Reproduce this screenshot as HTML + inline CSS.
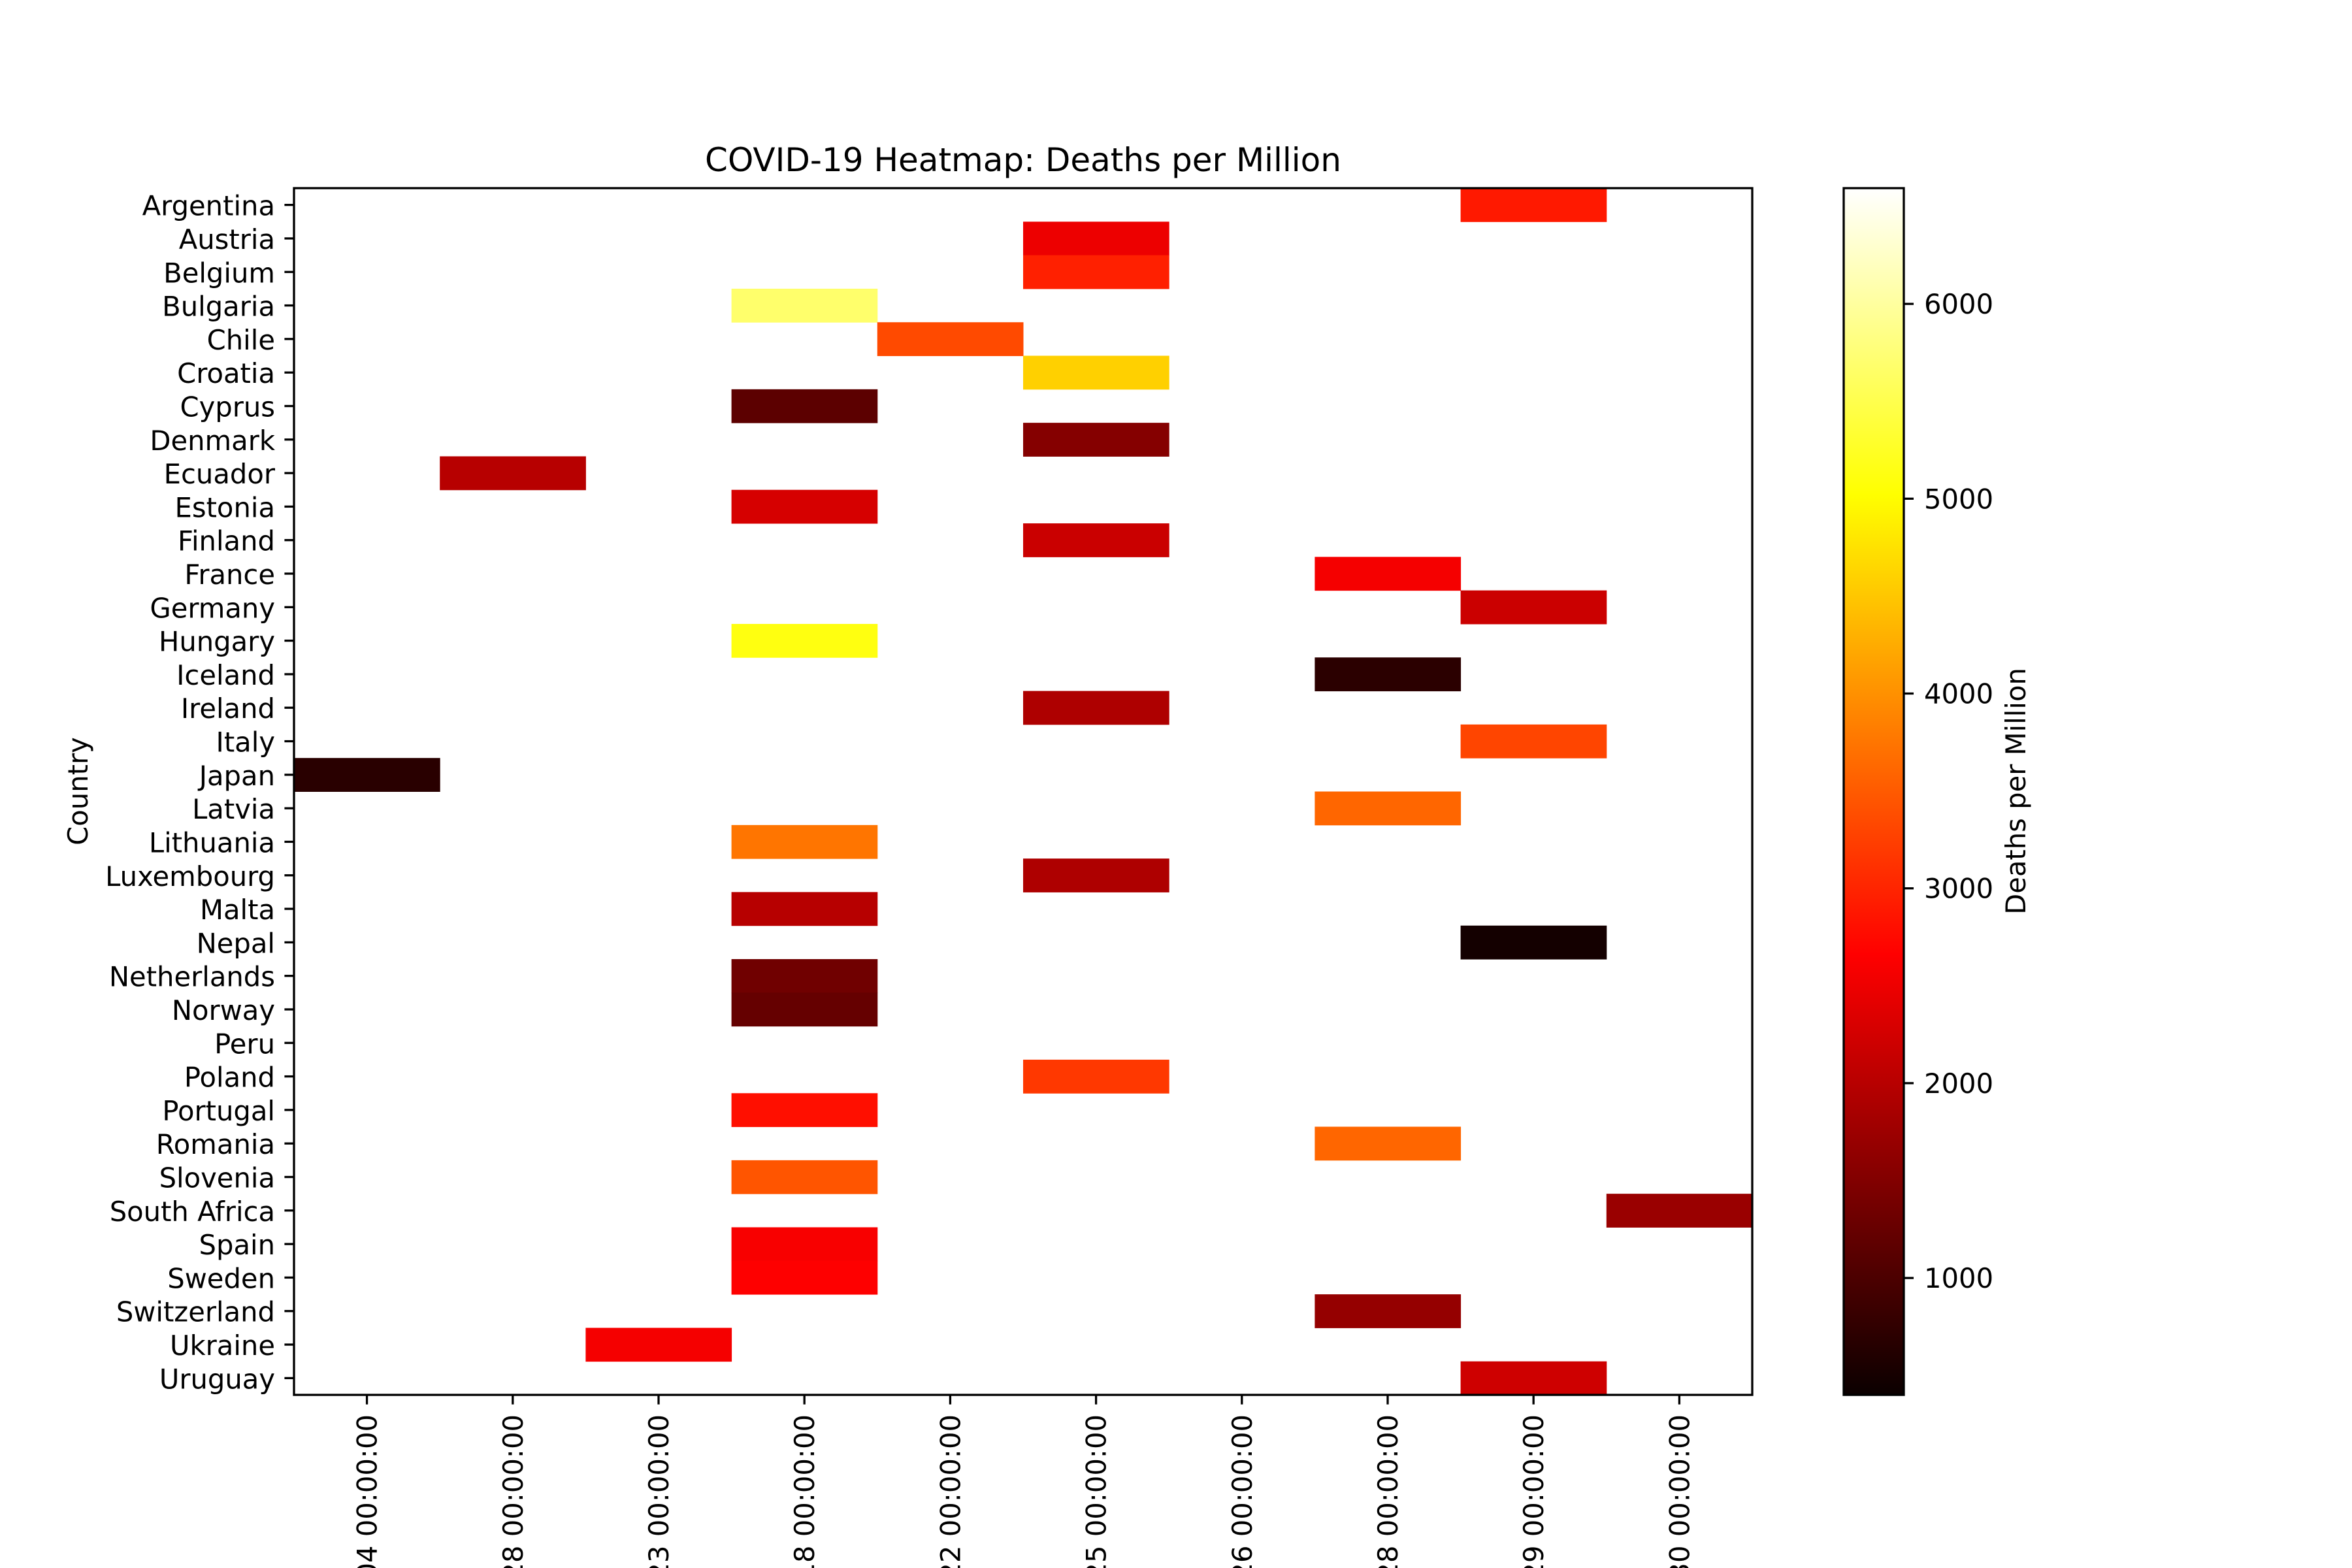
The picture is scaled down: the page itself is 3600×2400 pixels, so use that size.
<!DOCTYPE html>
<html>
<head>
<meta charset="utf-8">
<style>
  html,body{margin:0;padding:0;background:#fff;width:3600px;height:2400px;overflow:hidden;}
  svg{display:block;overflow:hidden;font-family:"DejaVu Sans","Liberation Sans",sans-serif;}
</style>
</head>
<body>
<svg id="chart" width="3600" height="2400" viewBox="0 0 3600 2400" xmlns="http://www.w3.org/2000/svg">
  <defs>
    <linearGradient id="hotgrad" x1="0" y1="1" x2="0" y2="0">
      <stop offset="0" stop-color="#0b0000"/>
      <stop offset="0.365" stop-color="#ff0000"/>
      <stop offset="0.746" stop-color="#ffff00"/>
      <stop offset="1" stop-color="#ffffff"/>
    </linearGradient>
  </defs>
  <rect width="3600" height="2400" fill="#fff"/>
  <text x="1566" y="262" font-size="50" text-anchor="middle">COVID-19 Heatmap: Deaths per Million</text>
  <g id="cells"></g>
  <g id="yaxis"></g>
  <g id="xaxis"></g>
  <rect x="450" y="288" width="2232" height="1847" fill="none" stroke="#000" stroke-width="3.3"/>
  <text transform="translate(134,1211) rotate(-90)" font-size="41.7" text-anchor="middle">Country</text>
  <rect x="2822" y="288" width="92" height="1847" fill="url(#hotgrad)" stroke="#000" stroke-width="3.3"/>
  <g id="cbaxis"></g>
  <text transform="translate(3100,1211) rotate(-90)" font-size="41.7" text-anchor="middle">Deaths per Million</text>
</svg>
<script>
const countries = ["Argentina","Austria","Belgium","Bulgaria","Chile","Croatia","Cyprus","Denmark","Ecuador","Estonia","Finland","France","Germany","Hungary","Iceland","Ireland","Italy","Japan","Latvia","Lithuania","Luxembourg","Malta","Nepal","Netherlands","Norway","Peru","Poland","Portugal","Romania","Slovenia","South Africa","Spain","Sweden","Switzerland","Ukraine","Uruguay"];
const dates = ["2020-03-04 00:00:00","2020-04-28 00:00:00","2020-06-23 00:00:00","2020-07-18 00:00:00","2020-09-22 00:00:00","2020-11-25 00:00:00","2021-01-26 00:00:00","2021-03-28 00:00:00","2021-05-29 00:00:00","2021-07-30 00:00:00"];
const dateIndex = [8,5,5,3,4,5,3,5,1,3,5,7,8,3,7,5,8,0,7,3,5,3,8,3,3,-1,5,3,7,3,9,3,3,7,2,8];
const deaths = [2897,2492,2958,5683,3343,4587,1154,1535,1996,2278,2173,2573,2180,5120,701,1908,3300,683,3604,3745,1908,1996,489,1340,1234,null,3181,2797,3604,3450,1730,2600,2652,1677,2573,2210];
const cbTicks = [1000,2000,3000,4000,5000,6000];
const vmin = 400, vmax = 6594;

const NS = "http://www.w3.org/2000/svg";
const X0 = 450, X1 = 2682, Y0 = 288, Y1 = 2135;
const colW = (X1 - X0) / dates.length;
const rowH = (Y1 - Y0) / countries.length;
const xPos = i => X0 + i * colW;
const yPos = i => Y0 + i * rowH;
const cbY = v => Y1 - (v - vmin) / (vmax - vmin) * (Y1 - Y0);

function hot(v){
  const t = Math.max(0, Math.min(1, (v - vmin) / (vmax - vmin)));
  const r = Math.min(1, 0.0416 + t / 0.365079 * (1 - 0.0416));
  const g = Math.max(0, Math.min(1, (t - 0.365079) / 0.380952));
  const b = Math.max(0, Math.min(1, (t - 0.746032) / 0.253968));
  return `rgb(${Math.round(r*255)},${Math.round(g*255)},${Math.round(b*255)})`;
}
function mk(tag, attrs){
  const e = document.createElementNS(NS, tag);
  for (const k in attrs) e.setAttribute(k, attrs[k]);
  return e;
}
const cells = document.getElementById('cells');
countries.forEach((c, i) => {
  if (deaths[i] === null || dateIndex[i] < 0) return;
  const r = mk('rect', {x: xPos(dateIndex[i]), y: yPos(i), width: colW + 0.5, height: rowH + 0.5, fill: hot(deaths[i])});
  
  
  cells.appendChild(r);
});
const yaxis = document.getElementById('yaxis');
countries.forEach((c, i) => {
  const yc = yPos(i) + rowH / 2;
  const t = mk('line', {x1: X0 - 14.6, x2: X0, y1: yc, y2: yc, stroke: '#000', 'stroke-width': 3.3});
  
  
  yaxis.appendChild(t);
  const l = mk('text', {x: X0 - 29, y: yc + 16, 'font-size': 41.7, 'text-anchor': 'end'});
  l.textContent = c;
  
  
  yaxis.appendChild(l);
});
const xaxis = document.getElementById('xaxis');
dates.forEach((d, i) => {
  const xc = xPos(i) + colW / 2;
  const t = mk('line', {x1: xc, x2: xc, y1: Y1, y2: Y1 + 14.6, stroke: '#000', 'stroke-width': 3.3});
  
  
  xaxis.appendChild(t);
  const l = mk('text', {transform: `translate(${xc + 15},${Y1 + 30}) rotate(-90)`, 'font-size': 41.7, 'text-anchor': 'end'});
  l.textContent = d;
  
  
  xaxis.appendChild(l);
});
const cbaxis = document.getElementById('cbaxis');
cbTicks.forEach(v => {
  const y = cbY(v);
  const t = mk('line', {x1: 2914, x2: 2929, y1: y, y2: y, stroke: '#000', 'stroke-width': 3.3});
  
  
  cbaxis.appendChild(t);
  const l = mk('text', {x: 2945, y: y + 15, 'font-size': 41.7});
  l.textContent = v;
  
  
  cbaxis.appendChild(l);
});
</script>
</body>
</html>
